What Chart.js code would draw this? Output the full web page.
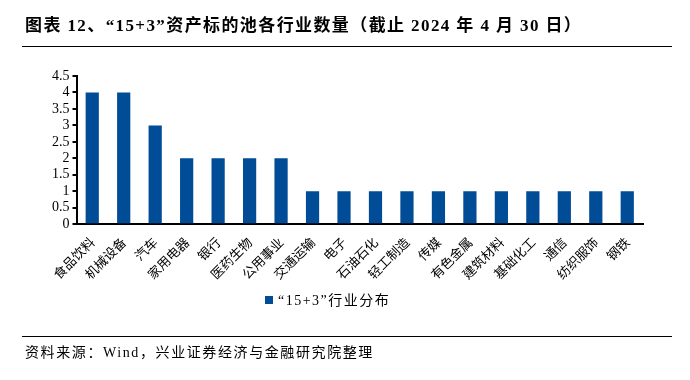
<!DOCTYPE html>
<html><head><meta charset="utf-8">
<script src="https://cdn.jsdelivr.net/npm/chart.js@4.4.1/dist/chart.umd.min.js"></script>
<style>
html,body{margin:0;padding:0;background:#fff;}
#wrap{position:relative;width:690px;height:380px;overflow:hidden;}
#c{position:absolute;left:0;top:0;}
.title{position:absolute;left:25px;top:11px;font:bold 17px "Liberation Serif","Noto Sans CJK SC";letter-spacing:1.4px;color:#000;white-space:nowrap;}
.hr{position:absolute;left:22px;width:650px;height:0;border-top:1px solid #000;}
.src{position:absolute;left:25px;top:341px;font:14px "Liberation Serif","Noto Sans CJK SC";letter-spacing:1.6px;color:#000;white-space:nowrap;}
.leg{position:absolute;left:265px;top:289px;font:14px "Liberation Serif","Noto Sans CJK SC";letter-spacing:1.5px;color:#000;white-space:nowrap;}
.leg span{display:inline-block;width:8px;height:8px;background:#004C97;margin-right:5px;vertical-align:1px;}
</style></head>
<body><div id="wrap">
<canvas id="c" width="690" height="380"></canvas>
<div class="title">图表 12、“15+3”资产标的池各行业数量（截止 2024 年 4 月 30 日）</div>
<div class="hr" style="top:46px"></div>
<div class="hr" style="top:336px"></div>
<div class="leg"><span></span>“15+3”行业分布</div>
<div class="src">资料来源：Wind，兴业证券经济与金融研究院整理</div>
</div>
<script>
const categories = ["食品饮料","机械设备","汽车","家用电器","银行","医药生物","公用事业","交通运输","电子","石油石化","轻工制造","传媒","有色金属","建筑材料","基础化工","通信","纺织服饰","钢铁"];
const values = [4,4,3,2,2,2,2,1,1,1,1,1,1,1,1,1,1,1];
const seriesName = "“15+3”行业分布";
const yTicks = [0,0.5,1,1.5,2,2.5,3,3.5,4,4.5];

new Chart(document.getElementById('c'), {
  type: 'bar',
  data: { labels: categories, datasets: [{ label: seriesName, data: values, backgroundColor: '#004C97', categoryPercentage: 1, barPercentage: 0.42 }] },
  options: {
    responsive: false, animation: false,
    layout: { padding: { top: 76, left: 49, right: 47, bottom: 96 } },
    plugins: { legend: { display: false }, tooltip: { enabled: false }, title: { display: false } },
    scales: {
      x: {
        grid: { display: false },
        border: { display: true, color: '#000', width: 2 },
        ticks: { color: '#000', font: { family: 'Noto Sans CJK SC', size: 13 }, minRotation: 45, maxRotation: 45, autoSkip: false, padding: 2 }
      },
      y: {
        min: 0, max: 4.5,
        afterBuildTicks: (ax) => { ax.ticks = yTicks.map(v => ({ value: v })); },
        grid: { drawOnChartArea: false, drawTicks: true, tickLength: 4, color: '#000', lineWidth: 2 },
        border: { display: true, color: '#000', width: 2 },
        ticks: { color: '#000', font: { family: 'Liberation Serif', size: 14 }, padding: 3, autoSkip: false, callback: v => String(v) }
      }
    }
  }
});
</script>
</body></html>
